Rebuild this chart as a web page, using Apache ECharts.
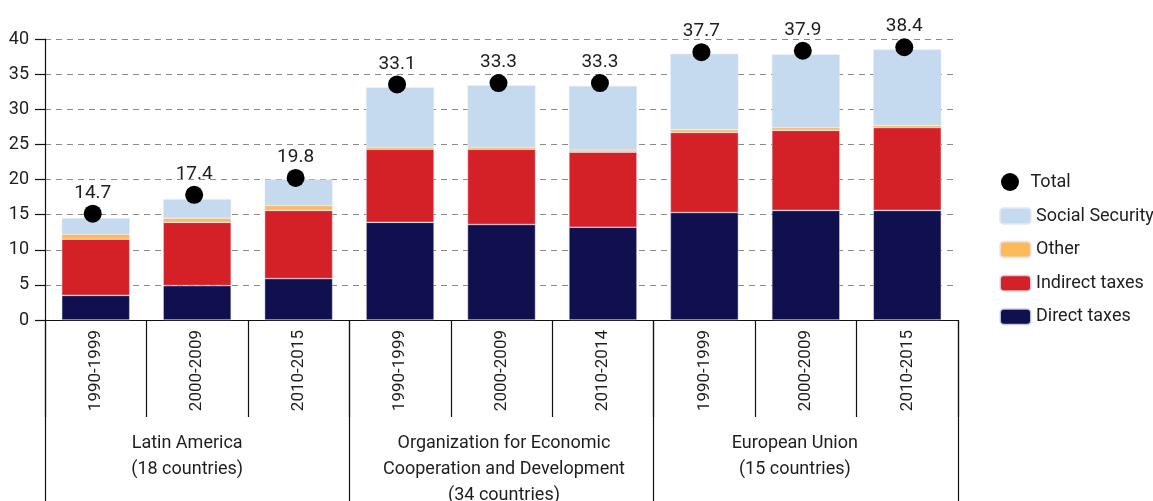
<!DOCTYPE html>
<html>
<head>
<meta charset="utf-8">
<script src="https://cdn.jsdelivr.net/npm/echarts@6/dist/echarts.min.js"></script>
<style>
  html, body { margin: 0; padding: 0; background: #fff; }
  #chart { width: 1153px; height: 501px; }
</style>
</head>
<body>
<div id="chart"></div>
<script>
const periods = ['1990-1999', '2000-2009', '2010-2015', '1990-1999', '2000-2009', '2010-2014', '1990-1999', '2000-2009', '2010-2015'];
const groups = ['Latin America\n(18 countries)', 'Organization for Economic\nCooperation and Development\n(34 countries)', 'European Union\n(15 countries)'];
const directTaxes   = [3.5, 4.9, 5.9, 13.9, 13.6, 13.2, 15.3, 15.6, 15.6];
const indirectTaxes = [8.0, 9.0, 9.7, 10.4, 10.7, 10.7, 11.4, 11.4, 11.8];
const other         = [0.7, 0.6, 0.7, 0.3, 0.3, 0.3, 0.4, 0.4, 0.3];
const socialSecurity= [2.3, 2.7, 3.7, 8.5, 8.8, 9.1, 10.8, 10.4, 10.8];
const total         = [14.7, 17.4, 19.8, 33.1, 33.3, 33.3, 37.7, 37.9, 38.4];
const yTicks = { min: 0, max: 40, interval: 5 };

const FONT = "Roboto, 'Liberation Sans', sans-serif";
const TXT = '#1e1e1e';

const chart = echarts.init(document.getElementById('chart'), null, { renderer: 'canvas' });

const barStyle = (color) => ({ color: color, borderColor: 'rgba(225,232,245,0.8)', borderWidth: 0.6 });

// horizontal nudges of the group captions (style only)
const groupRich = {
  g0: { fontFamily: FONT, fontSize: 18, lineHeight: 26, color: TXT, padding: [0, 20, 0, 0] },
  g1: { fontFamily: FONT, fontSize: 18, lineHeight: 26, color: TXT, padding: [0, 0, 0, 5] },
  g2: { fontFamily: FONT, fontSize: 18, lineHeight: 26, color: TXT, padding: [0, 22, 0, 0] }
};

const option = {
  animation: false,
  textStyle: { fontFamily: FONT },
  grid: { left: 45, right: 195, top: 39, bottom: 181, containLabel: false, outerBoundsMode: 'none' },
  legend: [
    {
      orient: 'vertical', left: 996, top: 168,
      itemWidth: 31, itemHeight: 18, itemGap: 13, itemTextGap: 11,
      textStyle: { fontFamily: FONT, fontSize: 18, color: TXT },
      data: ['Total']
    },
    {
      orient: 'vertical', left: 994, top: 202,
      itemWidth: 31, itemHeight: 16, itemGap: 15.6, itemTextGap: 8,
      textStyle: { fontFamily: FONT, fontSize: 18, color: TXT },
      data: ['Social Security', 'Other', 'Indirect taxes', 'Direct taxes']
    }
  ],
  xAxis: [
    {
      type: 'category', data: periods, position: 'bottom',
      axisLine: { show: true, lineStyle: { color: '#111', width: 1.2 } },
      axisTick: { show: true, length: 97, interval: 0, lineStyle: { color: '#111', width: 1.2 } },
      axisLabel: { interval: 0, rotate: 90, margin: 10, fontFamily: FONT, fontSize: 17, color: TXT }
    },
    {
      type: 'category', data: groups, position: 'bottom',
      axisLine: { show: false },
      axisTick: { show: true, length: 200, interval: 0, lineStyle: { color: '#111', width: 1.2 } },
      axisLabel: {
        interval: 0, margin: 110, fontFamily: FONT, fontSize: 18, lineHeight: 26, color: TXT, align: 'center',
        formatter: function (value, index) {
          return value.split('\n').map(function (line) { return '{g' + index + '|' + line + '}'; }).join('\n');
        },
        rich: groupRich
      }
    }
  ],
  yAxis: {
    type: 'value', min: yTicks.min, max: yTicks.max, interval: yTicks.interval,
    axisLine: { show: true, lineStyle: { color: '#111', width: 1.2 } },
    axisTick: { show: true, length: 10, lineStyle: { color: '#111', width: 1.2 } },
    axisLabel: { margin: 16, fontFamily: FONT, fontSize: 18, color: TXT },
    splitLine: { show: true, lineStyle: { color: '#8a8a8a', width: 1, type: [6, 5] } }
  },
  series: [
    { name: 'Direct taxes', type: 'bar', stack: 't', barWidth: 68, data: directTaxes, itemStyle: barStyle('#10104f') },
    { name: 'Indirect taxes', type: 'bar', stack: 't', barWidth: 68, data: indirectTaxes, itemStyle: barStyle('#d42027') },
    { name: 'Other', type: 'bar', stack: 't', barWidth: 68, data: other, itemStyle: barStyle('#fdb95a') },
    { name: 'Social Security', type: 'bar', stack: 't', barWidth: 68, data: socialSecurity, itemStyle: barStyle('#c5d9ef') },
    {
      name: 'Total', type: 'scatter', data: total, symbol: 'circle', symbolSize: 18,
      symbolOffset: [-3, -3], z: 5,
      itemStyle: { color: '#000', opacity: 1 },
      label: { show: true, position: 'top', distance: 2, fontFamily: FONT, fontSize: 19, color: TXT, opacity: 1 }
    }
  ]
};
chart.setOption(option);
</script>
</body>
</html>
